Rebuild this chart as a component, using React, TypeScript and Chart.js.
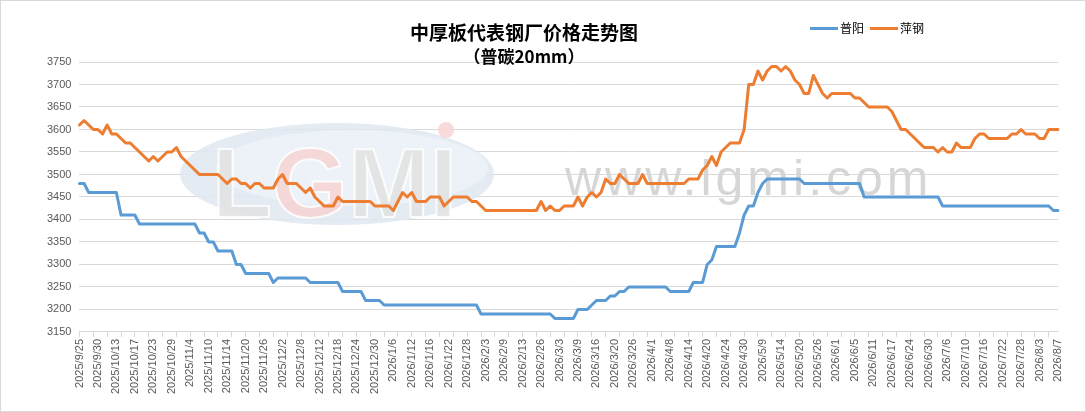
import React, { useEffect, useRef } from 'react';
import { Chart, registerables } from 'chart.js';

Chart.register(...registerables);

// x 轴显示的日期（每 4 个交易日一个）
const tickLabels = [
  '2025/9/25', '2025/9/30', '2025/10/13', '2025/10/17', '2025/10/23', '2025/10/29',
  '2025/11/4', '2025/11/10', '2025/11/14', '2025/11/20', '2025/11/26', '2025/12/2',
  '2025/12/8', '2025/12/12', '2025/12/18', '2025/12/24', '2025/12/30', '2026/1/6',
  '2026/1/12', '2026/1/16', '2026/1/22', '2026/1/28', '2026/2/3', '2026/2/9',
  '2026/2/13', '2026/2/26', '2026/3/3', '2026/3/9', '2026/3/16', '2026/3/20',
  '2026/3/26', '2026/4/1', '2026/4/8', '2026/4/14', '2026/4/20', '2026/4/24',
  '2026/4/30', '2026/5/9', '2026/5/14', '2026/5/20', '2026/5/26', '2026/6/1',
  '2026/6/5', '2026/6/11', '2026/6/17', '2026/6/24', '2026/6/30', '2026/7/6',
  '2026/7/10', '2026/7/16', '2026/7/22', '2026/7/28', '2026/8/3', '2026/8/7',
];

// 普阳
const puyang = [
  3480, 3480, 3460, 3460, 3460, 3460, 3460, 3460, 3460, 3410,
  3410, 3410, 3410, 3390, 3390, 3390, 3390, 3390, 3390, 3390,
  3390, 3390, 3390, 3390, 3390, 3390, 3370, 3370, 3350, 3350,
  3330, 3330, 3330, 3330, 3300, 3300, 3280, 3280, 3280, 3280,
  3280, 3280, 3260, 3270, 3270, 3270, 3270, 3270, 3270, 3270,
  3260, 3260, 3260, 3260, 3260, 3260, 3260, 3240, 3240, 3240,
  3240, 3240, 3220, 3220, 3220, 3220, 3210, 3210, 3210, 3210,
  3210, 3210, 3210, 3210, 3210, 3210, 3210, 3210, 3210, 3210,
  3210, 3210, 3210, 3210, 3210, 3210, 3210, 3190, 3190, 3190,
  3190, 3190, 3190, 3190, 3190, 3190, 3190, 3190, 3190, 3190,
  3190, 3190, 3190, 3180, 3180, 3180, 3180, 3180, 3200, 3200,
  3200, 3210, 3220, 3220, 3220, 3230, 3230, 3240, 3240, 3250,
  3250, 3250, 3250, 3250, 3250, 3250, 3250, 3250, 3240, 3240,
  3240, 3240, 3240, 3260, 3260, 3260, 3300, 3310, 3340, 3340,
  3340, 3340, 3340, 3370, 3410, 3430, 3430, 3460, 3480, 3490,
  3490, 3490, 3490, 3490, 3490, 3490, 3490, 3480, 3480, 3480,
  3480, 3480, 3480, 3480, 3480, 3480, 3480, 3480, 3480, 3480,
  3450, 3450, 3450, 3450, 3450, 3450, 3450, 3450, 3450, 3450,
  3450, 3450, 3450, 3450, 3450, 3450, 3450, 3430, 3430, 3430,
  3430, 3430, 3430, 3430, 3430, 3430, 3430, 3430, 3430, 3430,
  3430, 3430, 3430, 3430, 3430, 3430, 3430, 3430, 3430, 3430,
  3430, 3420, 3420,
];

// 萍钢
const pinggang = [
  3610, 3620, 3610, 3600, 3600, 3590, 3610, 3590, 3590, 3580,
  3570, 3570, 3560, 3550, 3540, 3530, 3540, 3530, 3540, 3550,
  3550, 3560, 3540, 3530, 3520, 3510, 3500, 3500, 3500, 3500,
  3500, 3490, 3480, 3490, 3490, 3480, 3480, 3470, 3480, 3480,
  3470, 3470, 3470, 3490, 3500, 3480, 3480, 3480, 3470, 3460,
  3470, 3450, 3440, 3430, 3430, 3430, 3450, 3440, 3440, 3440,
  3440, 3440, 3440, 3440, 3430, 3430, 3430, 3430, 3420, 3440,
  3460, 3450, 3460, 3440, 3440, 3440, 3450, 3450, 3450, 3430,
  3440, 3450, 3450, 3450, 3450, 3440, 3440, 3430, 3420, 3420,
  3420, 3420, 3420, 3420, 3420, 3420, 3420, 3420, 3420, 3420,
  3440, 3420, 3430, 3420, 3420, 3430, 3430, 3430, 3450, 3430,
  3450, 3460, 3450, 3460, 3490, 3480, 3480, 3500, 3490, 3480,
  3480, 3480, 3500, 3480, 3480, 3480, 3480, 3480, 3480, 3480,
  3480, 3480, 3490, 3490, 3490, 3510, 3520, 3540, 3520, 3550,
  3560, 3570, 3570, 3570, 3600, 3700, 3700, 3730, 3710, 3730,
  3740, 3740, 3730, 3740, 3730, 3710, 3700, 3680, 3680, 3720,
  3700, 3680, 3670, 3680, 3680, 3680, 3680, 3680, 3670, 3670,
  3660, 3650, 3650, 3650, 3650, 3650, 3640, 3620, 3600, 3600,
  3590, 3580, 3570, 3560, 3560, 3560, 3550, 3560, 3550, 3550,
  3570, 3560, 3560, 3560, 3580, 3590, 3590, 3580, 3580, 3580,
  3580, 3580, 3590, 3590, 3600, 3590, 3590, 3590, 3580, 3580,
  3600, 3600, 3600,
];

const BLUE = '#5b9bd5';
const ORANGE = '#ed7d31';
const tickFont = { family: '"Liberation Sans", Arial, sans-serif', size: 11 };

// 背景水印 (LGMI 标志 + 网址)
const watermark = {
  id: 'watermark',
  beforeDatasetsDraw(chart: Chart) {
    const ctx = chart.ctx;
    ctx.save();
    ctx.globalAlpha = 0.85;
    ctx.fillStyle = '#dfe7f1';
    ctx.beginPath();
    ctx.ellipse(337, 174, 157, 51, 0, 0, Math.PI * 2);
    ctx.fill();
    ctx.fillStyle = '#eef3f8';
    ctx.beginPath();
    ctx.ellipse(352, 168, 136, 38, 0, 0, Math.PI * 2);
    ctx.fill();

    ctx.font = 'bold 98px "Liberation Sans", Arial, sans-serif';
    ctx.lineWidth = 2;
    ctx.strokeStyle = '#ffffff';
    let x = 212;
    for (const ch of ['L', 'G', 'M', 'I']) {
      ctx.fillStyle = ch === 'G' ? '#f7d3d3' : '#e2e2e2';
      ctx.fillText(ch, x, 217);
      ctx.strokeText(ch, x, 217);
      x += ctx.measureText(ch).width;
    }
    ctx.fillStyle = '#f7d3d3';
    ctx.beginPath();
    ctx.arc(446, 130, 8, 0, Math.PI * 2);
    ctx.fill();

    ctx.globalAlpha = 1;
    ctx.font = '50px "Liberation Sans", Arial, sans-serif';
    (ctx as any).letterSpacing = '4px';
    ctx.fillStyle = '#d6d6d6';
    ctx.fillText('www.lgmi.com', 565, 195);
    ctx.restore();
  },
};

export default function App() {
  const canvasRef = useRef<HTMLCanvasElement>(null);

  useEffect(() => {
    document.body.style.margin = '0';
    const canvas = canvasRef.current;
    if (!canvas) return;

    const categories = puyang.map((_, i) => (i % 4 === 0 ? tickLabels[i / 4] : ''));

    const chart = new Chart(canvas, {
      type: 'line',
      data: {
        labels: categories,
        datasets: [
          { label: '普阳', data: puyang, borderColor: BLUE, backgroundColor: BLUE },
          { label: '萍钢', data: pinggang, borderColor: ORANGE, backgroundColor: ORANGE },
        ],
      },
      options: {
        responsive: true,
        maintainAspectRatio: false,
        animation: false,
        layout: { padding: { top: 62, right: 28, left: 39, bottom: 16 } },
        elements: {
          point: { radius: 0 },
          line: { borderWidth: 3, tension: 0, borderJoinStyle: 'round', borderCapStyle: 'round' },
        },
        plugins: {
          legend: { display: false },
          title: { display: false },
          tooltip: { enabled: false },
        },
        scales: {
          x: {
            offset: false,
            grid: {
              display: true,
              drawOnChartArea: false,
              drawTicks: true,
              tickLength: 5,
              color: (c: any) => (c.index % 3 === 0 ? '#d9d9d9' : 'rgba(0,0,0,0)'),
            },
            border: { display: true, color: '#d9d9d9' },
            ticks: {
              autoSkip: false,
              maxRotation: 90,
              minRotation: 90,
              padding: 2,
              color: '#595959',
              font: tickFont,
            },
          },
          y: {
            min: 3150,
            max: 3750,
            ticks: {
              stepSize: 50,
              padding: 8,
              color: '#595959',
              font: tickFont,
              callback: (v: any) => String(v),
            },
            grid: { color: '#d9d9d9', drawTicks: false },
            border: { display: false },
          },
        },
      },
      plugins: [watermark],
    });

    return () => chart.destroy();
  }, []);

  const cjk = '"Noto Sans CJK SC", "Noto Sans", sans-serif';

  return (
    <div style={{ position: 'relative', width: 1086, height: 412, background: '#fff', fontFamily: cjk }}>
      <canvas ref={canvasRef} />
      <div style={{ position: 'absolute', inset: 0, border: '1px solid #d9d9d9', pointerEvents: 'none' }} />
      <div
        style={{
          position: 'absolute', left: 524, top: 19, transform: 'translateX(-50%)',
          textAlign: 'center', fontWeight: 700, color: '#000', whiteSpace: 'nowrap',
        }}
      >
        <div style={{ fontSize: 19, lineHeight: '26px' }}>中厚板代表钢厂价格走势图</div>
        <div style={{ fontSize: 17, lineHeight: '22px' }}>（普碳20mm）</div>
      </div>
      <div
        style={{
          position: 'absolute', left: 810, top: 19, display: 'flex', alignItems: 'center',
          fontSize: 12, lineHeight: '18px', color: '#000', whiteSpace: 'nowrap',
        }}
      >
        <span style={{ display: 'inline-block', width: 28, height: 3, background: BLUE, marginRight: 2 }} />
        <span style={{ marginRight: 6 }}>普阳</span>
        <span style={{ display: 'inline-block', width: 28, height: 3, background: ORANGE, marginRight: 2 }} />
        <span>萍钢</span>
      </div>
    </div>
  );
}
